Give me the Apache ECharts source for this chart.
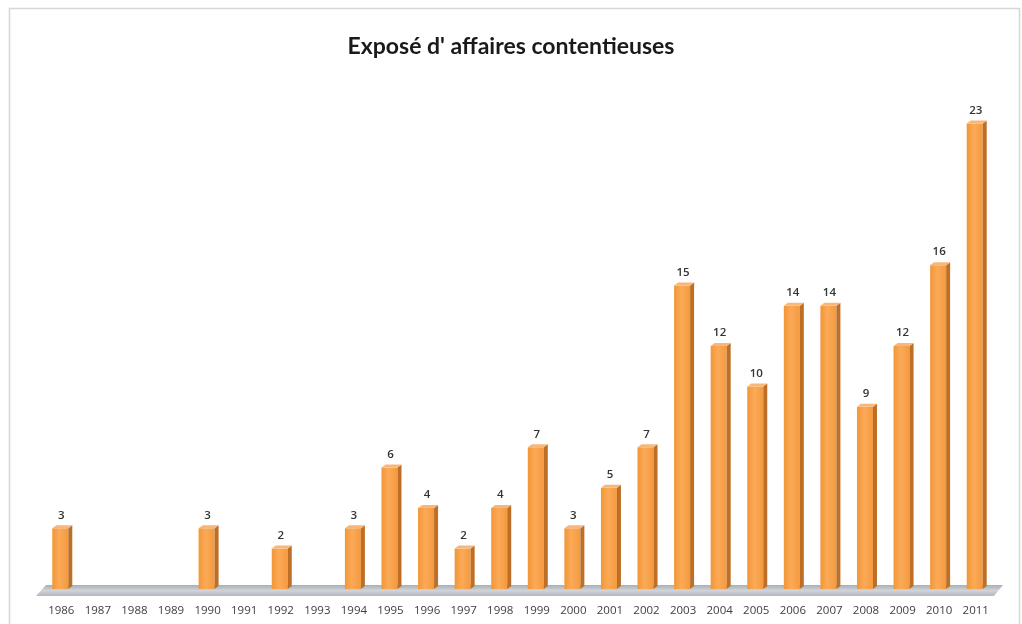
<!DOCTYPE html>
<html>
<head>
<meta charset="utf-8">
<script src="https://cdn.jsdelivr.net/npm/echarts@6/dist/echarts.min.js"></script>
<style>
html,body{margin:0;padding:0;background:#fff;}
#chart{width:1022px;height:624px;}
</style>
</head>
<body>
<div id="chart"></div>
<script>
const titleText = "Exposé d' affaires contentieuses";
const years = ['1986','1987','1988','1989','1990','1991','1992','1993','1994','1995','1996','1997','1998','1999','2000','2001','2002','2003','2004','2005','2006','2007','2008','2009','2010','2011'];
const counts = [3, null, null, null, 3, null, 2, null, 3, 6, 4, 2, 4, 7, 3, 5, 7, 15, 12, 10, 14, 14, 9, 12, 16, 23];

const chart = echarts.init(document.getElementById('chart'), null, {renderer: 'canvas'});

function renderBar(params, api) {
  const v = api.value(1);
  if (v == null || isNaN(v)) return null;
  const base = api.coord([api.value(0), 0]);
  const top = api.coord([api.value(0), v]);
  const w = 16, dx = 4, dy = 3;
  const x0 = base[0] - w / 2 - 1, x1 = x0 + w;
  const yb = base[1], yt = top[1];
  return {
    type: 'group',
    children: [
      {type: 'rect', shape: {x: x0, y: yt, width: w, height: yb - yt},
        style: {fill: new echarts.graphic.LinearGradient(0, 0, 1, 0, [
          {offset: 0, color: '#F29637'}, {offset: 0.45, color: '#FBAA58'}, {offset: 1, color: '#F49A3F'}])}},
      {type: 'polygon', shape: {points: [[x1, yt], [x1 + dx, yt - dy], [x1 + dx, yb - dy], [x1, yb]]},
        style: {fill: '#BD6F27'}},
      {type: 'polygon', shape: {points: [[x0, yt], [x0 + dx, yt - dy], [x1 + dx, yt - dy], [x1, yt]]},
        style: {fill: '#F8B77A'}},
      {type: 'text', x: x0 + w / 2 + 1, y: yt - 13,
        style: {text: String(v), fill: '#333333', font: '600 11.5px "Open Sans", sans-serif', align: 'center', verticalAlign: 'middle'}}
    ]
  };
}

function renderFloor(params, api) {
  const first = api.coord([0, 0]);
  const last = api.coord([years.length - 1, 0]);
  const band = api.size([1, 0])[0];
  const xl = first[0] - band / 2 - 7, xr = last[0] + band / 2;
  const yTop = first[1] - 4, yBot = first[1] + 7;
  return {
    type: 'polygon',
    shape: {points: [[xl + 10, yTop], [xr + 9, yTop], [xr, yBot], [xl, yBot]]},
    style: {fill: new echarts.graphic.LinearGradient(0, 0, 0, 1, [
      {offset: 0, color: '#A9ADB5'}, {offset: 0.5, color: '#D0D3D8'}, {offset: 1, color: '#B4B8BF'}])},
    z2: 0
  };
}

const barData = years.map((y, i) => [i, counts[i]]);

chart.setOption({
  animation: false,
  backgroundColor: '#ffffff',
  title: {
    text: titleText, left: 'center', top: 30,
    textStyle: {fontFamily: 'Lato, "Open Sans", sans-serif', fontSize: 23, fontWeight: 'bold', color: '#1a1a1a'}
  },
  graphic: [
    {type: 'rect', shape: {x: 9.5, y: 8.5, width: 1010, height: 630}, style: {fill: 'none', stroke: '#D6D6D6', lineWidth: 1.5}, z: -1}
  ],
  grid: {left: 43, right: 28, top: 83, bottom: 35},
  xAxis: {
    type: 'category', data: years, boundaryGap: true, offset: 7,
    axisLine: {show: false},
    axisTick: {show: true, length: 5, lineStyle: {color: '#9A9A9A'}},
    axisLabel: {margin: 9, color: '#404040', fontSize: 11.5, fontFamily: '"Open Sans", sans-serif'}
  },
  yAxis: {type: 'value', min: 0, max: 25, show: false, splitLine: {show: false}},
  series: [
    {type: 'custom', renderItem: renderFloor, data: [[0, 0]], z: 1, silent: true},
    {type: 'custom', renderItem: renderBar, data: barData, z: 2,
      encode: {x: 0, y: 1}}
  ]
});
</script>
</body>
</html>
